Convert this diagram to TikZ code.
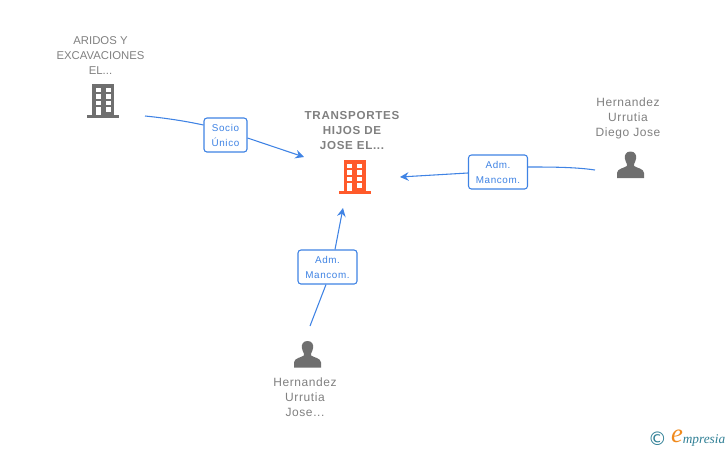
\documentclass[tikz,border=0pt]{standalone}
\usepackage{fontspec}
\setmainfont{Liberation Sans}
\newfontfamily\logofont{Liberation Serif}
\definecolor{txtgray}{HTML}{808080}
\definecolor{icongray}{HTML}{6F6F6F}
\definecolor{orangeicon}{HTML}{FF5A2B}
\definecolor{linkblue}{HTML}{3F83E4}
\definecolor{logoteal}{HTML}{2F7F95}
\definecolor{logoorange}{HTML}{F08A1D}
\usetikzlibrary{arrows.meta}
\tikzset{
  every picture/.append style={x=0.75pt,y=-0.75pt},
  caption/.style={text=txtgray,align=center,inner sep=0pt,font=\fontsize{8.5}{11.25}\selectfont},
  personcaption/.style={text=txtgray,align=center,inner sep=0pt,font=\fontsize{9}{11.25}\selectfont\addfontfeature{LetterSpace=5}},
  mainlabel/.style={text=txtgray,align=center,inner sep=0pt,font=\fontsize{8.7}{11.25}\selectfont\bfseries\addfontfeature{LetterSpace=6}},
  relbox/.style={draw=linkblue,line width=0.8pt,rounded corners=2.2pt,fill=white,text=linkblue,align=center,inner sep=0pt,font=\fontsize{7.4}{11.25}\selectfont\addfontfeature{LetterSpace=6}},
  link/.style={draw=linkblue,line width=0.8pt},
  arrowlink/.style={link,-{Stealth[length=6.5pt,width=6.5pt,inset=2.2pt]}},
  pics/building/.style={code={
    \fill[#1] (0,0) rectangle (22,32);
    \fill[#1] (-5,31) rectangle (27,34);
    \foreach \r in {3.5,10,16.5}{
      \fill[white] (3.5,\r) rectangle (8.5,\r+4.6);
      \fill[white] (13.5,\r) rectangle (18.5,\r+4.6);
    }
    \fill[white] (13.5,23) rectangle (18.5,27.6);
    \fill[white] (3.5,23) rectangle (8.5,31);
  }},
  pics/person/.style={code={
    \fill[icongray] (0,-13.5) .. controls (-4.5,-13.5) and (-6.2,-10) .. (-5.6,-6.5)
      .. controls (-5.2,-3.5) and (-4,-2.2) .. (-3.6,-1) -- (-3.6,1)
      .. controls (-6,3) and (-13.5,3.5) .. (-13.5,8) -- (-13.5,13) -- (13.5,13) -- (13.5,8)
      .. controls (13.5,3.5) and (6,3) .. (3.6,1) -- (3.6,-1)
      .. controls (4,-2.2) and (5.2,-3.5) .. (5.6,-6.5)
      .. controls (6.2,-10) and (4.5,-13.5) .. (0,-13.5) -- cycle;
  }}
}
\begin{document}
\begin{tikzpicture}
\useasboundingbox (0,0) rectangle (728,450);

% Text labels
\node[caption] (aridos) at (100.5,55.5) {ARIDOS Y\\EXCAVACIONES\\EL...};
\node[mainlabel] (transportes) at (352,131) {TRANSPORTES\\HIJOS DE\\JOSE EL...};
\node[personcaption] (diego) at (628,118.5) {Hernandez\\Urrutia\\Diego Jose};
\node[personcaption] (jose) at (305,397) {Hernandez\\Urrutia\\Jose...};

% Icons
\pic at (92,84) {building=icongray};
\pic at (343.5,160) {building=orangeicon};
\pic at (630.5,165) {person};
\pic at (307.5,354.5) {person};

% Free ends of the connectors
\coordinate (aridosout) at (145,116);
\coordinate (diegoout) at (595,170);
\coordinate (joseout) at (310,326);
\coordinate (targetleft) at (304,157);
\coordinate (targetright) at (400,177);
\coordinate (targetbottom) at (343,208);

% Relation boxes
\node[relbox,minimum width=43pt*0.75,minimum height=34pt*0.75] (socio) at (225.5,135) {\rule{0pt}{6.5pt}Socio\\Único};
\node[relbox,minimum width=59pt*0.75,minimum height=34pt*0.75] (admr) at (498,172) {\rule{0pt}{6.5pt}Adm.\\Mancom.};
\node[relbox,minimum width=59pt*0.75,minimum height=34pt*0.75] (admb) at (327.5,267) {\rule{0pt}{6.5pt}Adm.\\Mancom.};

% Connectors
\draw[link] (aridosout) .. controls (165,118) and (185,121) .. (socio.west |- 0,125);
\draw[arrowlink] (socio.east |- 0,138) -- (targetleft);
\draw[link] (diegoout) .. controls (575,167) and (550,167) .. (admr.east |- 0,167);
\draw[arrowlink] (admr.west |- 0,173) -- (targetright);
\draw[link] (joseout) -- (admb.south -| 326,0);
\draw[arrowlink] (admb.north -| 335,0) -- (targetbottom);

% Logo
\node[inner sep=0pt,text=logoteal,font=\fontspec{DejaVu Sans}\fontsize{14}{14}\selectfont] (copyr) at (657.5,438.5) {©};
\node[inner sep=0pt,text=logoorange,font=\logofont\itshape\fontsize{20}{20}\selectfont] (logoe) at (677,436.5) {e};
\node[inner sep=0pt,text=logoteal,anchor=west,font=\logofont\itshape\fontsize{10}{11}\selectfont] (logotext) at (682.5,440) {mpresia};
\end{tikzpicture}
\end{document}
